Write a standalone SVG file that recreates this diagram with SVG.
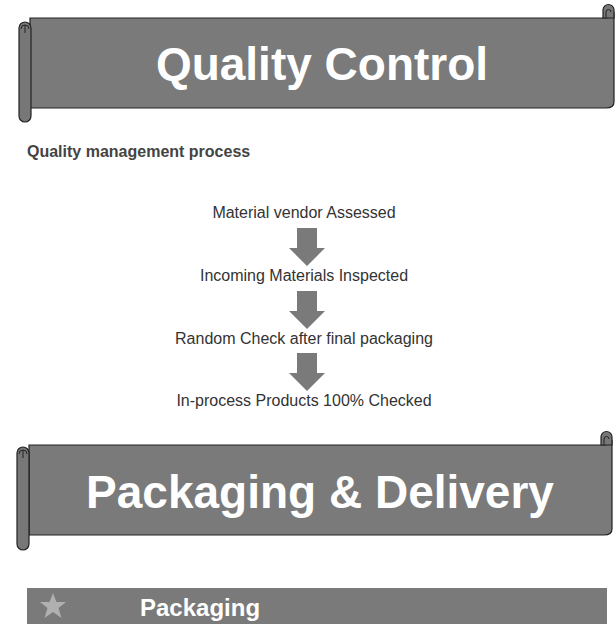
<svg xmlns="http://www.w3.org/2000/svg" width="616" height="633" viewBox="0 0 616 633">
<style>
.band{fill:#7a7a7a;stroke:#222;stroke-width:1.2}
.roll{fill:#777;stroke:#222;stroke-width:1.2}
.curl{fill:none;stroke:#222;stroke-width:1}
.ttl{font-family:"Liberation Sans",Arial,sans-serif;font-weight:bold;fill:#fff;text-anchor:middle}
.step{font-family:"Liberation Sans",Arial,sans-serif;font-size:16px;fill:#333;text-anchor:middle}
.arr{fill:#7a7a7a}
</style>
<rect width="616" height="633" fill="#fff"/>
<g id="banner-quality">
<path class="band" d="M30,18 H604 Q614,18 614,12 V102 Q614,108 606,108 H30 Z"/>
<path class="roll" d="M603,18 V10 A5.5,5.5 0 0 1 614,10 V18 Z"/>
<path class="curl" d="M606,18 V12 A2.5,2.5 0 0 1 611,12"/>
<rect class="roll" x="19" y="22" width="12" height="100" rx="6"/>
<path class="curl" d="M21,29 A4,4 0 0 1 29,29 M25,25 V33"/>
<text class="ttl" x="322" y="80" font-size="46">Quality Control</text>
</g>
<g id="subtitle"><text x="27" y="157" font-family="Liberation Sans,Arial,sans-serif" font-size="16" font-weight="bold" fill="#444">Quality management process</text></g>
<g id="s1"><text class="step" x="304" y="218">Material vendor Assessed</text></g>
<g id="s2"><text class="step" x="304" y="281">Incoming Materials Inspected</text></g>
<g id="s3"><text class="step" x="304" y="344">Random Check after final packaging</text></g>
<g id="s4"><text class="step" x="304" y="406">In-process Products 100% Checked</text></g>
<g id="connectors">
<path class="arr" d="M297,228 H317 V248 H325 L307,266 L289,248 H297 Z"/>
<path class="arr" d="M297,291 H317 V311 H325 L307,329 L289,311 H297 Z"/>
<path class="arr" d="M297,353 H317 V373 H325 L307,391 L289,373 H297 Z"/>
</g>
<g id="banner-packaging">
<path class="band" d="M29,445 H602 Q612,445 612,440 V529 Q612,535 604,535 H29 Z"/>
<path class="roll" d="M601,445 V437 A5.5,5.5 0 0 1 612,437 V445 Z"/>
<path class="curl" d="M604,445 V439 A2.5,2.5 0 0 1 609,439"/>
<rect class="roll" x="17" y="447" width="12" height="103" rx="6"/>
<path class="curl" d="M19,454 A4,4 0 0 1 27,454 M23,450 V458"/>
<text class="ttl" x="320" y="508" font-size="46">Packaging &amp; Delivery</text>
</g>
<g id="bar-packaging">
<rect x="27" y="588" width="580" height="36" fill="#7a7a7a"/>
<polygon points="53,593 56.5,602 66,602 58.5,608 61.5,618 53,612 44.5,618 47.5,608 40,602 49.5,602" fill="#b0b0b0"/>
<text x="140" y="616" font-family="Liberation Sans,Arial,sans-serif" font-size="24" font-weight="bold" fill="#fff">Packaging</text>
</g>
</svg>
